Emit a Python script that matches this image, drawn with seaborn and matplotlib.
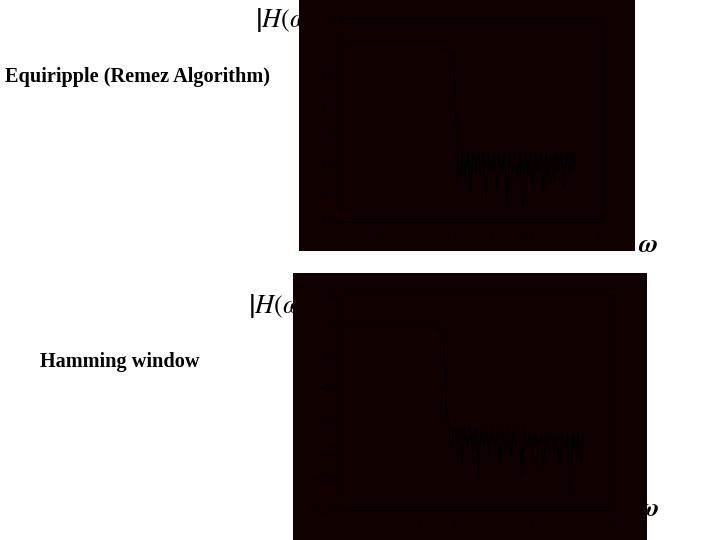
import numpy as np
import matplotlib.pyplot as plt
import seaborn as sns
import pandas as pd

# top panel: equiripple (Remez) response, dB vs omega
top_w = [0.0, 0.3, 0.6, 0.9, 1.2, 1.40, 1.48, 1.52,
         1.56, 1.595, 1.63, 1.665, 1.70, 1.735, 1.77, 1.805, 1.84, 1.875,
         1.91, 1.945, 1.98, 2.015, 2.05, 2.085, 2.12, 2.155, 2.19, 2.225,
         2.26, 2.295, 2.33, 2.365, 2.40, 2.435, 2.47, 2.505, 2.54, 2.575,
         2.61, 2.645, 2.68, 2.715, 2.75, 2.785, 2.82, 2.855, 2.89, 2.925,
         2.96, 2.995, 3.03, 3.065, 3.10, 3.14]
top_db = [0, 0, 0, 0, 0, 0, -3, -10,
          -36, -47, -36, -44, -36, -50, -36, -43, -36, -45,
          -36, -52, -36, -43, -36, -48, -36, -44, -36, -55,
          -36, -43, -36, -46, -36, -54, -36, -44, -36, -47,
          -36, -43, -36, -50, -36, -44, -36, -46, -36, -42,
          -36, -48, -36, -43, -36, -40]

# bottom panel: Hamming window response
bot_w = [0.0, 0.3, 0.6, 0.9, 1.2, 1.26, 1.30, 1.32, 1.34,
         1.37, 1.405, 1.44, 1.475, 1.51, 1.545, 1.58, 1.615, 1.65, 1.685,
         1.72, 1.755, 1.79, 1.825, 1.86, 1.895, 1.93, 1.965, 2.00, 2.035,
         2.07, 2.105, 2.14, 2.175, 2.21, 2.245, 2.28, 2.315, 2.35, 2.385,
         2.42, 2.455, 2.49, 2.525, 2.56, 2.595, 2.63, 2.665, 2.70, 2.735,
         2.77, 2.805, 2.84, 2.875, 2.91, 2.945, 2.98, 3.015, 3.05, 3.085, 3.11]
bot_db = [0, 0, 0, 0, 0, -3, -7, -30, -53,
          -66, -80, -66, -78, -67, -90, -67, -79, -67, -82,
          -67, -96, -67, -80, -68, -84, -68, -78, -68, -94,
          -68, -81, -68, -85, -68, -79, -68, -97, -68, -82,
          -69, -86, -69, -80, -69, -93, -69, -81, -69, -84,
          -69, -96, -70, -80, -70, -112, -70, -83, -70, -88, -70]

x_ticks = [0, 0.5, 1, 1.5, 2, 2.5, 3, 3.5]
top_yticks = [10, 0, -10, -20, -30, -40, -50, -60]
bot_yticks = [20, 0, -20, -40, -60, -80, -100, -120]

bg = '#110000'
ink = '#000000'
faint = '#070000'

sns.set_style("white")
plt.rcParams['mathtext.fontset'] = 'stix'
plt.rcParams['text.color'] = 'black'

fig = plt.figure(figsize=(7.2, 5.4), dpi=100)
fig.patch.set_facecolor('white')

# dark slide rectangles behind each plot
bg_top = fig.add_axes([299/720, 1 - 251/540, 336/720, 251/540])
bg_bot = fig.add_axes([293/720, 0, 354/720, 267/540])
for b in (bg_top, bg_bot):
    b.set_facecolor(bg)
    b.set_xticks([])
    b.set_yticks([])
    for s in b.spines.values():
        s.set_visible(False)

ax1 = fig.add_axes([341/720, 1 - 222/540, 261/720, 204/540])
ax2 = fig.add_axes([343/720, 1 - 510/540, 270/720, 215/540])

df_top = pd.DataFrame({'w': top_w, 'db': top_db})
df_bot = pd.DataFrame({'w': bot_w, 'db': bot_db})

sns.lineplot(data=df_top, x='w', y='db', ax=ax1, color=ink, linewidth=0.9,
             sort=False, estimator=None)
sns.lineplot(data=df_bot, x='w', y='db', ax=ax2, color=ink, linewidth=0.9,
             sort=False, estimator=None)

for ax, yt in ((ax1, top_yticks), (ax2, bot_yticks)):
    ax.set_facecolor('none')
    ax.set_xlim(0, 3.5)
    ax.set_ylim(min(yt), max(yt))
    ax.set_xticks(x_ticks)
    ax.set_xticklabels([f'{t:g}' for t in x_ticks])
    ax.set_yticks(yt)
    ax.tick_params(colors=faint, labelsize=7, length=2, pad=3)
    ax.set_xlabel('')
    ax.set_ylabel('')
    for s in ax.spines.values():
        s.set_color(ink)
        s.set_linewidth(0.8)

serif = ['Liberation Serif', 'DejaVu Serif']
fig.text(5/720, 1 - 77/540, 'Equiripple (Remez Algorithm)', family=serif,
         fontsize=14.6, fontweight='bold', va='center', ha='left',
         color='black', zorder=-1)
fig.text(40/720, 1 - 362/540, 'Hamming window', family=serif,
         fontsize=14.6, fontweight='bold', va='center', ha='left',
         color='black', zorder=-1)

fig.text(255/720, 1 - 20/540, r'$\left|H(\omega)\right|$', fontsize=19,
         va='center', ha='left', color='black', zorder=-1)
fig.text(248/720, 1 - 306/540, r'$\left|H(\omega)\right|$', fontsize=19,
         va='center', ha='left', color='black', zorder=-1)
fig.text(638/720, 1 - 245/540, r'$\boldsymbol{\omega}$', fontsize=19,
         va='center', ha='left', color='black', zorder=-1)
fig.text(639/720, 1 - 509/540, r'$\boldsymbol{\omega}$', fontsize=19,
         va='center', ha='left', color='black', zorder=-1)

fig.savefig('out.png', dpi=100, facecolor='white')
